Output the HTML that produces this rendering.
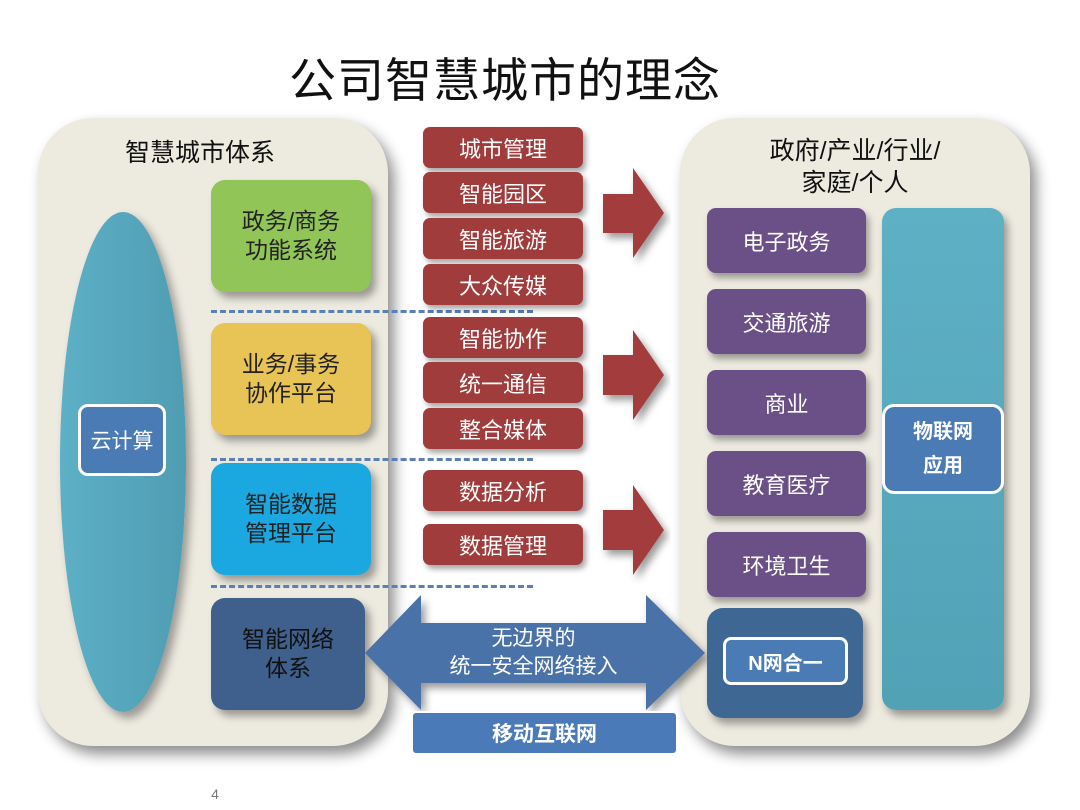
<!DOCTYPE html>
<html><head><meta charset="utf-8"><style>
body{margin:0;width:1080px;height:810px;background:#fff;position:relative;overflow:hidden;font-family:"Liberation Sans","Noto Sans CJK SC",sans-serif;}
.a{position:absolute;box-sizing:border-box;display:flex;align-items:center;justify-content:center;text-align:center;}
.panel{background:#edeae0;border-radius:55px;box-shadow:6px 8px 14px rgba(0,0,0,0.45);}
.box{border-radius:14px;box-shadow:5px 6px 8px rgba(0,0,0,0.35);font-size:23px;line-height:29px;}
.red{background:#a03c3c;color:#fff;border-radius:7px;font-size:22px;box-shadow:3px 4px 6px rgba(0,0,0,0.35);left:423px;width:160px;height:41px;}
.pur{background:#6b5087;color:#fff;border-radius:9px;font-size:22px;box-shadow:3px 5px 7px rgba(0,0,0,0.35);left:707px;width:159px;height:65px;}
.dash{position:absolute;left:211px;width:322px;border-top:3px dashed #5a7fb5;}
</style></head><body>
<div class="a" style="left:230px;top:46px;width:550px;height:60px;font-size:47px;letter-spacing:1px;color:#111;">公司智慧城市的理念</div>

<div class="a panel" style="left:38px;top:118px;width:350px;height:628px;"></div>
<div class="a panel" style="left:680px;top:118px;width:350px;height:628px;"></div>

<div class="a" style="left:100px;top:133px;width:200px;height:36px;font-size:25px;color:#111;">智慧城市体系</div>
<div class="a" style="left:60px;top:212px;width:126px;height:500px;border-radius:50%;background:linear-gradient(90deg,#5db0c6,#4f9db3);box-shadow:5px 6px 9px rgba(0,0,0,0.35);"></div>
<div class="a" style="left:78px;top:404px;width:88px;height:72px;background:#4a7bb5;border:3px solid #fff;border-radius:10px;color:#fff;font-size:21px;">云计算</div>

<div class="a box" style="left:211px;top:180px;width:160px;height:112px;background:#92c557;color:#222;">政务/商务<br>功能系统</div>
<div class="a box" style="left:211px;top:323px;width:160px;height:112px;background:#e8c355;color:#222;">业务/事务<br>协作平台</div>
<div class="a box" style="left:211px;top:463px;width:160px;height:112px;background:#1ba8e0;color:#222;">智能数据<br>管理平台</div>
<div class="a box" style="left:211px;top:598px;width:154px;height:112px;background:#3f5f8d;color:#111;">智能网络<br>体系</div>

<div class="dash" style="top:310px;"></div>
<div class="dash" style="top:458px;"></div>
<div class="dash" style="top:585px;"></div>

<div class="a red" style="top:127px;">城市管理</div>
<div class="a red" style="top:172px;">智能园区</div>
<div class="a red" style="top:218px;">智能旅游</div>
<div class="a red" style="top:264px;">大众传媒</div>
<div class="a red" style="top:317px;">智能协作</div>
<div class="a red" style="top:362px;">统一通信</div>
<div class="a red" style="top:408px;">整合媒体</div>
<div class="a red" style="top:470px;">数据分析</div>
<div class="a red" style="top:524px;">数据管理</div>

<svg style="position:absolute;left:0;top:0" width="1080" height="810">
<defs><filter id="s"><feDropShadow dx="4" dy="5" stdDeviation="4" flood-opacity="0.4"/></filter></defs>
<g fill="#a33e3e" filter="url(#s)">
<polygon points="603,194 633,194 633,168 664,213 633,258 633,233 603,233"/>
<polygon points="603,355 633,355 633,330 664,375 633,420 633,395 603,395"/>
<polygon points="603,510 633,510 633,485 664,530 633,575 633,550 603,550"/>
</g>
<polygon filter="url(#s)" fill="#4a72a8" points="365,653 421,595 421,623 646,623 646,595 705,653 646,710 646,683 421,683 421,710"/>
</svg>
<div class="a" style="left:421px;top:623px;width:225px;height:60px;color:#fff;font-size:21px;line-height:28px;">无边界的<br>统一安全网络接入</div>
<div class="a" style="left:411px;top:711px;width:267px;height:44px;background:#4a7bb8;border:2px solid #fff;border-radius:5px;color:#fff;font-size:21px;font-weight:bold;">移动互联网</div>

<div class="a" style="left:700px;top:134px;width:310px;height:66px;font-size:25px;line-height:32px;color:#111;">政府/产业/行业/<br>家庭/个人</div>
<div class="a pur" style="top:208px;">电子政务</div>
<div class="a pur" style="top:289px;">交通旅游</div>
<div class="a pur" style="top:370px;">商业</div>
<div class="a pur" style="top:451px;">教育医疗</div>
<div class="a pur" style="top:532px;">环境卫生</div>
<div class="a" style="left:707px;top:608px;width:156px;height:110px;background:#3f6794;border-radius:16px;box-shadow:4px 6px 8px rgba(0,0,0,0.35);"></div>
<div class="a" style="left:723px;top:637px;width:125px;height:48px;background:#4a7bb5;border:3px solid #fff;border-radius:8px;color:#fff;font-size:20px;font-weight:bold;">N网合一</div>
<div class="a" style="left:882px;top:208px;width:122px;height:502px;background:linear-gradient(180deg,#5eb0c4,#52a2b6);border-radius:14px;box-shadow:4px 6px 8px rgba(0,0,0,0.35);"></div>
<div class="a" style="left:882px;top:404px;width:122px;height:90px;background:#4a7bb5;border:3px solid #fff;border-radius:12px;color:#fff;font-size:20px;font-weight:bold;line-height:34px;">物联网<br>应用</div>

<div class="a" style="left:205px;top:784px;width:20px;height:20px;font-size:14px;color:#777;">4</div>
</body></html>
